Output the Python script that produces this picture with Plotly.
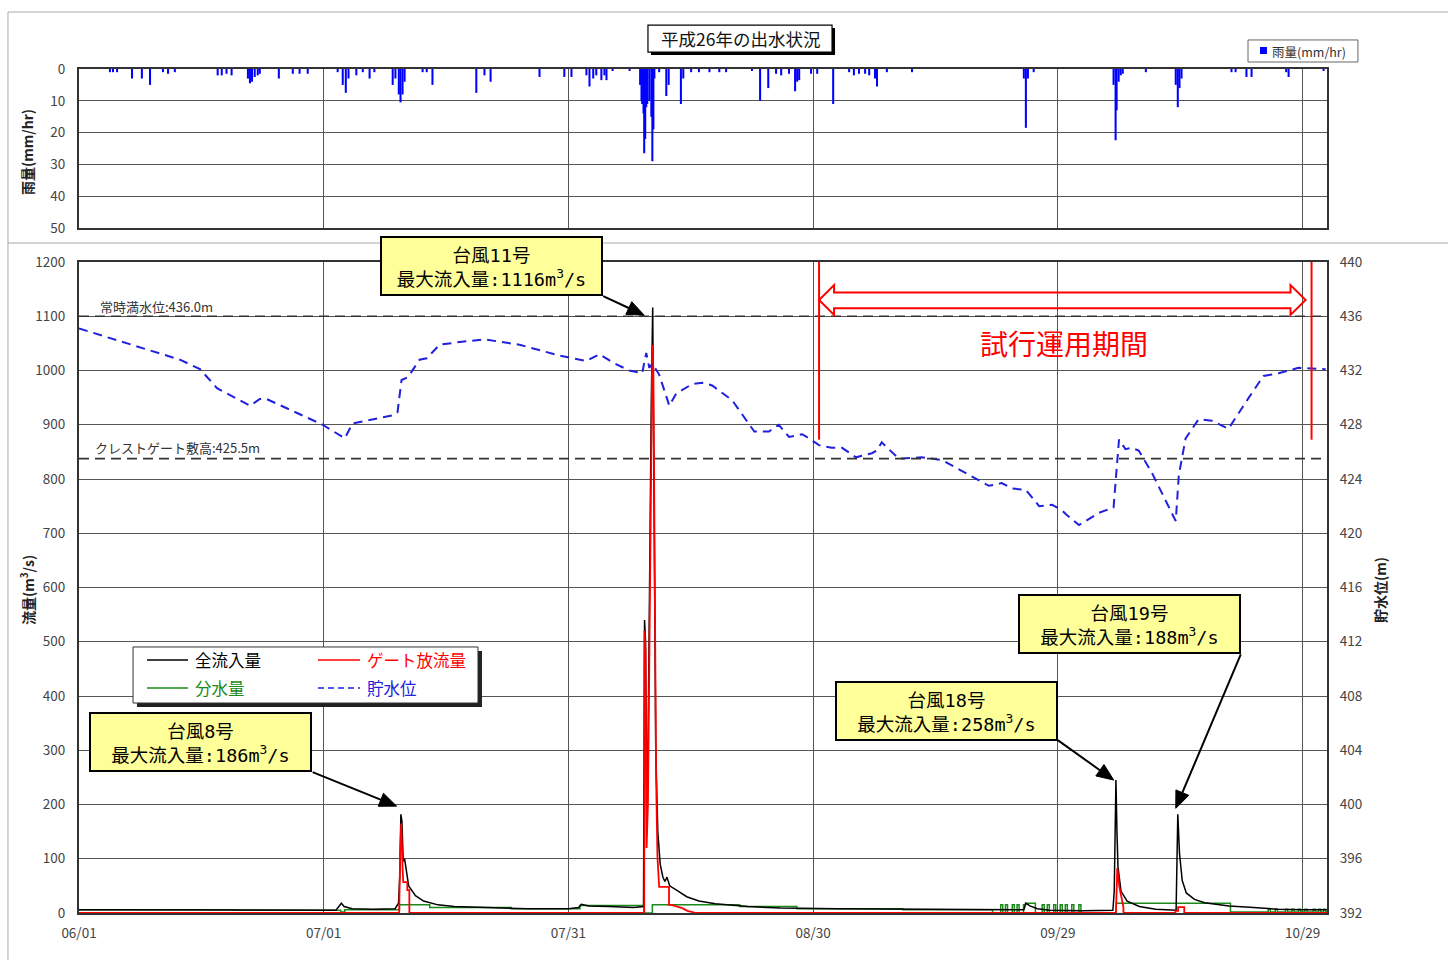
import math
import plotly.graph_objects as go

# ---------------- data ----------------
grid_dates = ["2014-06-01", "2014-07-01", "2014-07-31", "2014-08-30", "2014-09-29", "2014-10-29"]
grid_labels = ["06/01", "07/01", "07/31", "08/30", "09/29", "10/29"]
x_range = ["2014-06-01", "2014-11-01"]

rain_time = [
    "2014-06-04 19:00", "2014-06-05 04:00", "2014-06-05 16:00", "2014-06-07 12:00", "2014-06-08 17:00",
    "2014-06-09 17:00", "2014-06-11 07:00", "2014-06-11 22:00", "2014-06-12 18:00", "2014-06-18 00:00",
    "2014-06-18 12:00", "2014-06-19 02:00", "2014-06-19 17:00", "2014-06-21 17:00", "2014-06-21 23:00",
    "2014-06-22 05:00", "2014-06-22 13:00", "2014-06-22 22:00", "2014-06-23 04:00", "2014-06-25 12:00",
    "2014-06-27 05:00", "2014-06-28 01:00", "2014-06-29 01:00", "2014-07-02 17:00", "2014-07-03 08:00",
    "2014-07-03 17:00", "2014-07-04 01:00", "2014-07-05 00:00", "2014-07-05 19:00", "2014-07-06 15:00",
    "2014-07-07 05:00", "2014-07-09 11:00", "2014-07-09 19:00", "2014-07-10 05:00", "2014-07-10 10:00",
    "2014-07-10 16:00", "2014-07-10 22:00", "2014-07-13 03:00", "2014-07-13 15:00", "2014-07-14 08:00",
    "2014-07-19 17:00", "2014-07-20 17:00", "2014-07-21 11:00", "2014-07-27 11:00", "2014-07-30 12:00",
    "2014-07-31 09:00", "2014-08-02 05:00", "2014-08-02 14:00", "2014-08-03 01:00", "2014-08-03 10:00",
    "2014-08-04 01:00", "2014-08-04 10:00", "2014-08-04 16:00", "2014-08-05 10:00", "2014-08-07 12:00",
    "2014-08-08 19:00", "2014-08-08 23:00", "2014-08-09 01:00", "2014-08-09 05:00", "2014-08-09 07:00",
    "2014-08-09 10:00", "2014-08-09 13:00", "2014-08-09 16:00", "2014-08-09 22:00", "2014-08-10 04:00",
    "2014-08-10 07:00", "2014-08-10 10:00", "2014-08-10 13:00", "2014-08-11 03:00", "2014-08-12 00:00",
    "2014-08-12 07:00", "2014-08-13 19:00", "2014-08-14 02:00", "2014-08-15 01:00", "2014-08-16 00:00",
    "2014-08-17 07:00", "2014-08-18 12:00", "2014-08-19 08:00", "2014-08-22 12:00", "2014-08-23 12:00",
    "2014-08-24 12:00", "2014-08-25 11:00", "2014-08-26 02:00", "2014-08-27 01:00", "2014-08-27 19:00",
    "2014-08-28 01:00", "2014-08-28 07:00", "2014-08-29 18:00", "2014-08-30 12:00", "2014-09-01 11:00",
    "2014-09-03 10:00", "2014-09-04 00:00", "2014-09-04 15:00", "2014-09-05 09:00", "2014-09-05 21:00",
    "2014-09-06 14:00", "2014-09-06 20:00", "2014-09-08 01:00", "2014-09-11 03:00", "2014-09-24 20:00",
    "2014-09-25 02:00", "2014-09-25 08:00", "2014-09-26 01:00", "2014-10-05 20:00", "2014-10-06 02:00",
    "2014-10-06 05:00", "2014-10-06 11:00", "2014-10-06 17:00", "2014-10-06 23:00", "2014-10-09 19:00",
    "2014-10-13 11:00", "2014-10-13 17:00", "2014-10-13 22:00", "2014-10-14 04:00", "2014-10-20 07:00",
    "2014-10-20 19:00", "2014-10-22 03:00", "2014-10-22 18:00", "2014-10-27 00:00", "2014-10-27 07:00",
    "2014-10-31 14:00",
]
rain_mm = [
    1, 1, 1, 3, 3,
    5, 1, 1.5, 1, 2,
    2, 1.5, 2, 3, 4.5,
    4, 2.5, 2, 1.5, 3,
    1.5, 1.5, 1.5, 1, 5,
    7.5, 3, 2, 1, 3,
    1, 5, 3, 8, 10.5,
    8, 4, 1, 1, 5,
    7.5, 2, 4, 2.5, 2.5,
    2.5, 2, 5.5, 3, 2,
    3.5, 2, 3.5, 0.5, 0.5,
    5, 10, 11, 14, 26.5,
    22, 12, 11, 10, 15,
    29, 19, 3, 1, 8.5,
    5, 11, 3, 1, 1,
    1, 1, 1, 0.5, 10,
    6, 1.5, 2, 1.5, 7,
    4, 3.5, 1.5, 1.5, 11,
    1, 2, 1.5, 1.5, 2,
    3, 5.5, 1, 1, 3,
    18.5, 3, 1, 5, 22.4,
    13, 4, 2, 1.5, 1,
    5, 12, 6, 3, 1,
    1, 2.5, 2.5, 1, 2.5,
    0.5,
]

inflow_time = [
    "2014-06-01 00:00", "2014-06-15 00:00", "2014-07-02 12:00", "2014-07-03 04:00", "2014-07-03 12:00",
    "2014-07-04 12:00", "2014-07-07 00:00", "2014-07-09 18:00", "2014-07-10 04:00", "2014-07-10 08:00",
    "2014-07-10 11:00", "2014-07-10 14:00", "2014-07-10 18:00", "2014-07-10 22:00", "2014-07-11 02:00",
    "2014-07-11 10:00", "2014-07-12 06:00", "2014-07-13 06:00", "2014-07-15 00:00", "2014-07-17 00:00",
    "2014-07-21 00:00", "2014-07-26 00:00", "2014-07-31 00:00", "2014-08-01 06:00", "2014-08-01 14:00",
    "2014-08-02 12:00", "2014-08-05 00:00", "2014-08-08 00:00", "2014-08-09 05:00", "2014-08-09 08:00",
    "2014-08-09 11:00", "2014-08-09 15:00", "2014-08-09 19:00", "2014-08-09 23:00", "2014-08-10 04:00",
    "2014-08-10 08:00", "2014-08-10 12:00", "2014-08-10 17:00", "2014-08-10 23:00", "2014-08-11 06:00",
    "2014-08-11 14:00", "2014-08-11 20:00", "2014-08-12 02:00", "2014-08-12 10:00", "2014-08-13 12:00",
    "2014-08-14 12:00", "2014-08-16 00:00", "2014-08-18 00:00", "2014-08-22 00:00", "2014-08-26 00:00",
    "2014-09-02 00:00", "2014-09-10 00:00", "2014-09-20 00:00", "2014-09-24 20:00", "2014-09-25 02:00",
    "2014-09-25 14:00", "2014-09-26 12:00", "2014-09-28 00:00", "2014-10-02 00:00", "2014-10-05 18:00",
    "2014-10-05 22:00", "2014-10-06 03:00", "2014-10-06 06:00", "2014-10-06 09:00", "2014-10-06 18:00",
    "2014-10-07 12:00", "2014-10-09 00:00", "2014-10-11 00:00", "2014-10-13 12:00", "2014-10-13 14:00",
    "2014-10-13 17:00", "2014-10-13 22:00", "2014-10-14 06:00", "2014-10-14 18:00", "2014-10-15 18:00",
    "2014-10-17 00:00", "2014-10-20 00:00", "2014-10-23 00:00", "2014-10-26 00:00", "2014-10-29 00:00",
    "2014-11-01 00:00",
]
inflow_cms = [
    6, 5, 5, 18, 12,
    8, 7, 8, 18, 70,
    182, 170, 95, 100, 80,
    50, 32, 22, 15, 12,
    10, 8, 8, 10, 16,
    13, 12, 10, 12, 540,
    500, 150, 350, 650, 950,
    1116, 750, 300, 150, 90,
    66, 58, 66, 50, 40,
    30, 22, 17, 12, 9,
    8, 7, 6, 6, 18,
    13, 8, 5, 4, 5,
    40, 245, 150, 85, 40,
    22, 12, 7, 5, 60,
    182, 110, 60, 37, 25,
    19, 13, 10, 7, 6,
    6,
]

gate_time = [
    "2014-06-01 00:00", "2014-07-10 06:00", "2014-07-10 09:00", "2014-07-10 12:00", "2014-07-10 16:00",
    "2014-07-10 18:00", "2014-07-11 06:00", "2014-07-11 06:00", "2014-07-11 12:00", "2014-07-11 12:00",
    "2014-08-09 07:00", "2014-08-09 08:00", "2014-08-09 11:00", "2014-08-09 14:00", "2014-08-09 18:00",
    "2014-08-09 22:00", "2014-08-10 03:00", "2014-08-10 07:00", "2014-08-10 10:00", "2014-08-10 13:00",
    "2014-08-10 18:00", "2014-08-10 22:00", "2014-08-11 03:00", "2014-08-12 08:00", "2014-08-12 08:00",
    "2014-08-12 15:00", "2014-08-13 23:00", "2014-08-14 14:00", "2014-08-15 16:00", "2014-10-06 03:00",
    "2014-10-06 07:00", "2014-10-06 13:00", "2014-10-06 20:00", "2014-10-07 01:00", "2014-10-07 01:00",
    "2014-10-13 10:00", "2014-10-13 10:00", "2014-10-13 18:00", "2014-10-13 18:00", "2014-10-14 12:00",
    "2014-10-14 12:00", "2014-11-01 00:00",
]
gate_cms = [
    0, 0, 110, 165, 85,
    57, 57, 42, 42, 0,
    0, 520, 480, 120, 200,
    500, 900, 1047, 1000, 650,
    250, 103, 48, 48, 15,
    15, 9, 4, 0, 0,
    83, 48, 24, 11, 0,
    0, 4, 4, 11, 11,
    0, 0,
]

diversion_time = [
    "2014-06-01 00:00", "2014-06-20 00:00", "2014-07-03 02:00", "2014-07-03 14:00", "2014-07-10 07:00",
    "2014-07-14 00:00", "2014-07-24 00:00", "2014-08-01 10:00", "2014-08-09 06:00", "2014-08-10 07:00",
    "2014-08-21 00:00", "2014-08-28 00:00", "2014-09-10 00:00", "2014-09-21 00:00",
    "2014-09-22 00:00", "2014-09-22 06:00", "2014-09-22 14:00", "2014-09-22 20:00",
    "2014-09-23 10:00", "2014-09-23 16:00", "2014-09-24 00:00", "2014-09-24 06:00",
    "2014-09-24 19:00", "2014-09-25 01:00", "2014-09-26 06:00",
    "2014-09-27 02:00", "2014-09-27 08:00", "2014-09-27 17:00", "2014-09-27 23:00",
    "2014-09-28 12:00", "2014-09-28 18:00", "2014-09-29 07:00", "2014-09-29 13:00",
    "2014-09-29 22:00", "2014-09-30 04:00", "2014-09-30 17:00", "2014-09-30 23:00",
    "2014-10-01 14:00", "2014-10-01 20:00", "2014-10-06 04:00", "2014-10-20 04:00",
    "2014-10-24 19:00", "2014-10-25 01:00", "2014-10-25 16:00", "2014-10-25 22:00",
    "2014-10-26 22:00", "2014-10-27 04:00", "2014-10-27 17:00", "2014-10-27 23:00",
    "2014-10-28 12:00", "2014-10-28 18:00", "2014-10-29 07:00", "2014-10-29 13:00",
    "2014-10-30 07:00", "2014-10-30 13:00", "2014-10-30 23:00", "2014-10-31 05:00",
    "2014-10-31 14:00", "2014-10-31 20:00", "2014-11-01 00:00",
]
diversion_cms = [
    6, 5, 2, 6, 15,
    10, 8, 14, 0, 15,
    12, 8, 6, 0,
    15, 0, 15, 0,
    15, 0, 15, 0,
    15, 18, 0,
    15, 0, 15, 0,
    15, 0, 15, 0,
    15, 0, 15, 0,
    15, 0, 18, 2,
    7, 2, 7, 2,
    7, 2, 7, 2,
    7, 2, 7, 2,
    7, 2, 7, 2,
    7, 2, 2,
]

level_time = [
    "2014-06-01 00:00", "2014-06-09 17:00", "2014-06-13 09:00", "2014-06-15 20:00", "2014-06-17 22:00",
    "2014-06-21 23:00", "2014-06-23 04:00", "2014-06-24 00:00", "2014-06-30 21:00", "2014-07-03 14:00",
    "2014-07-04 13:00", "2014-07-09 11:00", "2014-07-10 01:00", "2014-07-10 13:00", "2014-07-11 07:00",
    "2014-07-11 13:00", "2014-07-12 18:00", "2014-07-13 15:00", "2014-07-15 05:00", "2014-07-17 16:00",
    "2014-07-20 17:00", "2014-07-25 00:00", "2014-07-29 22:00", "2014-08-02 05:00", "2014-08-03 19:00",
    "2014-08-05 10:00", "2014-08-07 11:00", "2014-08-09 01:00", "2014-08-09 13:00", "2014-08-09 22:00",
    "2014-08-10 07:00", "2014-08-11 03:00", "2014-08-12 09:00", "2014-08-13 05:00", "2014-08-15 04:00",
    "2014-08-16 10:00", "2014-08-17 15:00", "2014-08-20 02:00", "2014-08-22 04:00", "2014-08-22 19:00",
    "2014-08-24 14:00", "2014-08-25 19:00", "2014-08-27 01:00", "2014-08-28 16:00", "2014-08-29 12:00",
    "2014-08-30 17:00", "2014-09-01 07:00", "2014-09-02 13:00", "2014-09-04 06:00", "2014-09-06 05:00",
    "2014-09-06 19:00", "2014-09-07 10:00", "2014-09-09 12:00", "2014-09-12 07:00", "2014-09-14 19:00",
    "2014-09-17 05:00", "2014-09-20 13:00", "2014-09-22 03:00", "2014-09-23 09:00", "2014-09-25 02:00",
    "2014-09-25 19:00", "2014-09-26 17:00", "2014-09-28 07:00", "2014-09-29 12:00", "2014-09-30 00:00",
    "2014-10-01 14:00", "2014-10-02 10:00", "2014-10-04 00:00", "2014-10-05 20:00", "2014-10-06 12:00",
    "2014-10-07 07:00", "2014-10-08 01:00", "2014-10-08 22:00", "2014-10-10 12:00", "2014-10-13 11:00",
    "2014-10-13 20:00", "2014-10-14 16:00", "2014-10-16 06:00", "2014-10-17 21:00", "2014-10-19 22:00",
    "2014-10-22 10:00", "2014-10-24 05:00", "2014-10-26 02:00", "2014-10-28 12:00", "2014-10-31 20:00",
]
level_m = [
    435.1, 433.5, 432.8, 432.1, 430.7,
    429.4, 429.9, 429.9, 428.0, 427.0,
    428.1, 428.7, 428.9, 431.3, 431.5,
    431.7, 432.8, 432.9, 433.9, 434.1,
    434.3, 433.9, 433.1, 432.7, 433.2,
    432.6, 432.0, 431.8, 433.3, 432.2,
    432.5, 431.7, 429.4, 430.3, 431.0,
    431.1, 430.9, 429.8, 428.1, 427.5,
    427.5, 428.0, 427.1, 427.3, 427.0,
    426.5, 426.3, 426.3, 425.6, 425.9,
    426.1, 426.7, 425.5, 425.6, 425.4,
    424.6, 423.5, 423.7, 423.3, 423.2,
    422.7, 422.0, 422.1, 421.7, 421.4,
    420.6, 420.9, 421.5, 421.9, 426.9,
    426.2, 426.3, 426.1, 424.5, 420.9,
    424.3, 427.0, 428.4, 428.3, 427.7,
    430.0, 431.6, 431.8, 432.2, 432.1,
]

full_level = 436.0
crest_level = 425.5
trial_start = "2014-08-30_17:30:00"
trial_end = "2014-10-30_02:30:00"

typhoon_names = ["11", "8", "18", "19"]
typhoon_peaks = ["1116", "186", "258", "188"]

FONT = "Noto Sans CJK JP"
MONO = "DejaVu Sans Mono"

# ---------------- figure ----------------
fig = go.Figure()
fig.add_trace(go.Bar(x=rain_time, y=rain_mm, xaxis="x", yaxis="y", width=6 * 3600 * 1000,
                     marker=dict(color="#0000FF", line=dict(width=0)), name="雨量(mm/hr)"))
fig.add_trace(go.Scatter(x=diversion_time, y=diversion_cms, xaxis="x2", yaxis="y2", mode="lines",
                         line=dict(color="#1A8A1A", width=1.5, shape="hv"), name="分水量"))
fig.add_trace(go.Scatter(x=inflow_time, y=inflow_cms, xaxis="x2", yaxis="y2", mode="lines",
                         line=dict(color="#000000", width=1.5), name="全流入量"))
fig.add_trace(go.Scatter(x=gate_time, y=gate_cms, xaxis="x2", yaxis="y2", mode="lines",
                         line=dict(color="#FF0000", width=1.8), name="ゲート放流量"))
fig.add_trace(go.Scatter(x=level_time, y=level_m, xaxis="x2", yaxis="y3", mode="lines",
                         line=dict(color="#2020DD", width=2, dash="9px,6px"), name="貯水位"))

grid = "#555555"
tickfont = dict(family=FONT, size=13.5, color="#444444")
common_x = dict(type="date", range=x_range, tickvals=grid_dates, showgrid=True, gridcolor=grid, gridwidth=1,
                showline=True, mirror=True, linecolor="#333333", linewidth=2, zeroline=False)

fig.update_layout(
    width=1448, height=960,
    margin=dict(l=79, r=121, t=69, b=47),
    paper_bgcolor="white", plot_bgcolor="white",
    showlegend=False,
    font=dict(family=FONT, size=13, color="#333333"),
    xaxis=dict(domain=[0, 1], anchor="y", showticklabels=False, ticks="", **common_x),
    yaxis=dict(domain=[0.8116, 1.0], anchor="x", range=[50, 0], tickvals=[0, 10, 20, 30, 40, 50],
               showgrid=True, gridcolor=grid, showline=True, mirror=True, linecolor="#333333", linewidth=2,
               zeroline=False, ticks="outside", ticklen=9, tickcolor="rgba(0,0,0,0)", tickfont=tickfont),
    xaxis2=dict(domain=[0, 1], anchor="y2", ticktext=grid_labels, ticks="outside", ticklen=7,
                tickcolor="rgba(0,0,0,0)", tickfont=tickfont, **common_x),
    yaxis2=dict(domain=[0, 0.7713], anchor="x2", range=[0, 1200], dtick=100, showgrid=True, gridcolor=grid,
                showline=True, mirror=True, linecolor="#333333", linewidth=2, zeroline=False,
                ticks="outside", ticklen=9, tickcolor="rgba(0,0,0,0)", tickfont=tickfont),
    yaxis3=dict(overlaying="y2", anchor="x2", side="right", range=[392, 440], dtick=4, showgrid=False,
                zeroline=False, showline=False, ticks="outside", ticklen=9, tickcolor="rgba(0,0,0,0)",
                tickfont=tickfont),
)

shapes = []
# outer frame & separator
frame = dict(type="line", xref="paper", yref="paper", line=dict(color="#AAAAAA", width=1), layer="below")
shapes.append(dict(frame, x0=-0.0569, x1=1.2, y0=1.0675, y1=1.0675))
shapes.append(dict(frame, x0=-0.0569, x1=-0.0569, y0=1.0675, y1=-0.06))
shapes.append(dict(frame, x0=-0.0569, x1=1.2, y0=0.7938, y1=0.7938))
# title box with shadow
shapes.append(dict(type="rect", xref="paper", yref="paper", x0=0.4583, x1=0.6058, y0=1.0166, y1=1.0486,
                   fillcolor="#000000", line=dict(width=0)))
shapes.append(dict(type="rect", xref="paper", yref="paper", x0=0.4559, x1=0.6034, y0=1.0201, y1=1.0521,
                   fillcolor="white", line=dict(color="#000000", width=1.2)))
# rain legend
shapes.append(dict(type="rect", xref="paper", yref="paper", x0=0.9367, x1=1.0248, y0=1.0083, y1=1.0344,
                   fillcolor="white", line=dict(color="#666666", width=1)))
shapes.append(dict(type="rect", xref="paper", yref="paper", x0=0.9463, x1=0.9519, y0=1.0178, y1=1.0261,
                   fillcolor="#0000FF", line=dict(width=0)))
# reference levels
shapes.append(dict(type="line", xref="paper", yref="y3", x0=0, x1=1, y0=full_level, y1=full_level,
                   line=dict(color="#333333", width=1.5, dash="10px,6px")))
shapes.append(dict(type="line", xref="paper", yref="y3", x0=0, x1=1, y0=crest_level, y1=crest_level,
                   line=dict(color="#333333", width=1.8, dash="10px,6px")))
# trial period
shapes.append(dict(type="line", xref="x2", yref="y3", x0=trial_start.replace("_", " "),
                   x1=trial_start.replace("_", " "), y0=426.9, y1=440, line=dict(color="#FF0000", width=2)))
shapes.append(dict(type="line", xref="x2", yref="y3", x0=trial_end.replace("_", " "),
                   x1=trial_end.replace("_", " "), y0=426.9, y1=440.2, line=dict(color="#FF0000", width=2)))
arrow_pts = [
    (trial_start, 437.2), ("2014-09-01_13:40:00", 438.3), ("2014-09-01_13:40:00", 437.75),
    ("2014-10-27_12:40:00", 437.75), ("2014-10-27_12:40:00", 438.3), ("2014-10-29_09:00:00", 437.2),
    ("2014-10-27_12:40:00", 436.1), ("2014-10-27_12:40:00", 436.6), ("2014-09-01_13:40:00", 436.6),
    ("2014-09-01_13:40:00", 436.1),
]
path = "M" + " L".join(f"{d},{v}" for d, v in arrow_pts) + " Z"
shapes.append(dict(type="path", xref="x2", yref="y3", path=path, line=dict(color="#FF0000", width=2)))

# callout arrows: tip anchored at data point, tail offset in screen pixels (dx right, dy down)
arrows = [
    ("2014-08-09 07:00", 1102, -41, -19),
    ("2014-07-09 22:30", 197, -84, -34),
    ("2014-10-05 20:30", 245, -56, -40),
    ("2014-10-13 11:00", 193, 65, -154),
]
HEAD_L, HEAD_W = 17, 7
for xx, yy, dx, dy in arrows:
    tx, ty = dx, -dy
    ln = math.hypot(tx, ty)
    ux, uy = -tx / ln, -ty / ln
    bx, by = -ux * HEAD_L, -uy * HEAD_L
    nx, ny = -uy, ux
    common = dict(xref="x2", yref="y2", xsizemode="pixel", ysizemode="pixel", xanchor=xx, yanchor=yy,
                  layer="above")
    shapes.append(dict(type="line", x0=tx, y0=ty, x1=bx * 0.9, y1=by * 0.9,
                       line=dict(color="#000000", width=2), **common))
    tri = (f"M0,0 L{bx + nx * HEAD_W:.2f},{by + ny * HEAD_W:.2f} "
           f"L{bx - nx * HEAD_W:.2f},{by - ny * HEAD_W:.2f} Z")
    shapes.append(dict(type="path", path=tri, fillcolor="#000000", line=dict(color="#000000", width=1),
                       **common))

# legend box with shadow
shapes.append(dict(type="rect", xref="paper", yref="paper", x0=0.0465, x1=0.3229, y0=0.2441, y1=0.3104,
                   fillcolor="#222222", line=dict(width=0), layer="above"))
shapes.append(dict(type="rect", xref="paper", yref="paper", x0=0.0433, x1=0.3197, y0=0.2488, y1=0.3152,
                   fillcolor="white", line=dict(color="#333333", width=1), layer="above"))
leg_items = [
    (0.0545, 0.0873, 0.2998, "#000000", "solid"),
    (0.1915, 0.2252, 0.2998, "#FF0000", "solid"),
    (0.0545, 0.0873, 0.2666, "#1A8A1A", "solid"),
    (0.1915, 0.2252, 0.2666, "#2020DD", "6px,4px"),
]
for x0, x1, yy, c, d in leg_items:
    shapes.append(dict(type="line", xref="paper", yref="paper", x0=x0, x1=x1, y0=yy, y1=yy,
                       line=dict(color=c, width=1.5, dash=d), layer="above"))
fig.update_layout(shapes=shapes)

ann = []
ann.append(dict(text="平成26年の出水状況", xref="paper", yref="paper", x=0.5297, y=1.0361, showarrow=False,
                xanchor="center", yanchor="middle", font=dict(size=17.5, color="#111111")))
ann.append(dict(text="雨量(mm/hr)", xref="paper", yref="paper", x=0.9543, y=1.0213, showarrow=False,
                xanchor="left", yanchor="middle", font=dict(size=12.5, color="#333333")))
# axis titles
ann.append(dict(text="<b>雨量(mm/hr)</b>", xref="paper", yref="paper", x=-0.0417, y=0.9017, showarrow=False,
                textangle=-90, xanchor="center", yanchor="middle", font=dict(size=14, color="#222222")))
ann.append(dict(text="<b>流量(m<sup>3</sup>/s)</b>", xref="paper", yref="paper", x=-0.0417, y=0.3827,
                showarrow=False, textangle=-90, xanchor="center", yanchor="middle",
                font=dict(size=14, color="#222222")))
ann.append(dict(text="<b>貯水位(m)</b>", xref="paper", yref="paper", x=1.0425, y=0.3827, showarrow=False,
                textangle=-90, xanchor="center", yanchor="middle", font=dict(size=14, color="#222222")))
# level labels
ann.append(dict(text="常時満水位:436.0m", xref="paper", yref="paper", x=0.0152, y=0.7185, showarrow=False,
                xanchor="left", yanchor="middle", font=dict(size=13, color="#333333")))
ann.append(dict(text="クレストゲート敷高:425.5m", xref="paper", yref="paper", x=0.0112, y=0.5515,
                showarrow=False, xanchor="left", yanchor="middle", font=dict(size=13, color="#333333")))
ann.append(dict(text="試行運用期間", xref="paper", yref="paper", x=0.789, y=0.6754, showarrow=False,
                xanchor="center", yanchor="middle", font=dict(size=28, color="#FF0000")))
# legend texts
for txt, xx, yy, c in [("全流入量", 0.0913, 0.2998, "#000000"), ("ゲート放流量", 0.2292, 0.2998, "#FF0000"),
                       ("分水量", 0.0913, 0.2666, "#1A8A1A"), ("貯水位", 0.2292, 0.2666, "#2020DD")]:
    ann.append(dict(text=txt, xref="paper", yref="paper", x=xx, y=yy, showarrow=False, xanchor="left",
                    yanchor="middle", font=dict(size=16.5, color=c)))
# typhoon boxes
box_pos = [(0.3305, 0.7666), (0.0974, 0.2026), (0.6951, 0.2399), (0.8417, 0.3430)]
for num, q, (xx, yy) in zip(typhoon_names, typhoon_peaks, box_pos):
    txt = (f"台風<span style='font-family:{MONO}'>{num}</span>号<br>"
           f"最大流入量<span style='font-family:{MONO}'>:{q}m<sup>3</sup>/s</span>")
    ann.append(dict(text=txt, xref="paper", yref="paper", x=xx, y=yy,
                    showarrow=False, xanchor="center", yanchor="middle", width=217, height=54, align="center",
                    bgcolor="#FFFF99", bordercolor="#000000", borderwidth=2, borderpad=1,
                    font=dict(size=18.5, color="#000000")))
fig.update_layout(annotations=ann)

fig.write_html("out.html", config={"displayModeBar": False},
               post_script="document.body.style.margin='0';document.body.style.overflow='hidden';")
